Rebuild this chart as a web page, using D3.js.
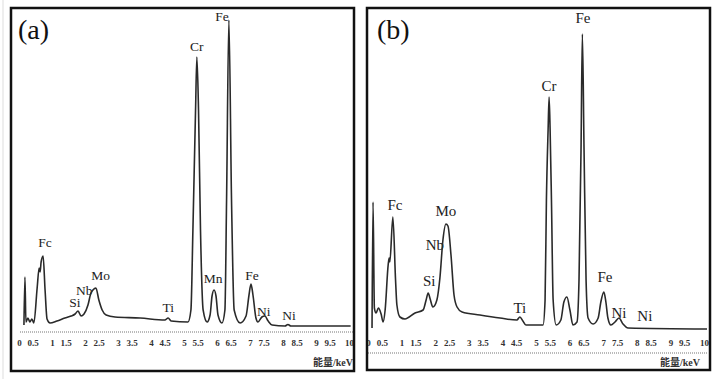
<!DOCTYPE html>
<html>
<head>
<meta charset="utf-8">
<script src="https://cdn.jsdelivr.net/npm/d3@7/dist/d3.min.js"></script>
<style>
  html, body { margin: 0; padding: 0; background: #fff; }
  svg { display: block; }
</style>
</head>
<body>
<svg id="chart" width="724" height="379"></svg>
<script>
// ---------------- DATA ----------------
// Panel (a): EDS spectrum, energy (keV) and intensity (arb. units)
const energyA = [0.15,0.18,0.21,0.27,0.33,0.39,0.45,0.55,0.61,0.64,0.67,0.73,0.79,0.85,0.94,1.15,1.39,1.58,1.70,1.79,1.88,1.97,2.09,2.18,2.24,2.33,2.42,2.52,2.64,2.91,3.67,4.42,4.52,4.61,5.12,5.21,5.27,5.35,5.39,5.44,5.50,5.58,5.70,5.79,5.85,5.91,5.97,6.03,6.15,6.24,6.29,6.36,6.44,6.52,6.70,6.88,6.97,7.03,7.09,7.18,7.24,7.36,7.45,7.55,7.67,8.06,8.15,8.24,10.05];
const countsA = [5,53,8,12,8,11,7,42,62,58,68,74,40,11,7,9,12,14,16,19,14,16,25,37,40,42,30,20,15,13,12,10,12,9,8,20,100,220,273,220,100,20,8,15,34,40,34,15,7,20,130,310,130,20,7,14,35,46,35,12,8,13,14,9,5,4,5.5,4,4];

// Panel (b)
const energyB = [0.12,0.15,0.19,0.24,0.31,0.39,0.45,0.51,0.60,0.63,0.65,0.74,0.82,0.86,0.95,1.10,1.40,1.64,1.73,1.79,1.85,1.93,2.05,2.14,2.23,2.32,2.38,2.47,2.56,2.65,2.80,3.33,3.93,4.43,4.52,4.61,4.70,5.21,5.27,5.31,5.36,5.39,5.42,5.46,5.51,5.60,5.74,5.83,5.92,6.01,6.10,6.22,6.28,6.34,6.38,6.43,6.49,6.55,6.70,6.85,6.93,7.02,7.08,7.14,7.23,7.35,7.47,7.59,7.74,10.09];
const countsB = [3,129,23,18,23,17,9,21,66,73,69,114,51,26,14,12,18,21,31,38,32,24,31,53,91,107,105,76,36,24,19,16,13,11,14,10,6,6,31,131,201,234,201,131,31,6,11,29,34,21,6,9,51,181,297,181,51,13,7,13,29,39,29,13,6,9,13,7,3,2];

// Peak annotations (element names and their anchor in data coordinates)
const peakNamesA  = ["Fc","Si","Nb","Mo","Ti","Cr","Mn","Fe","Fe","Ni","Ni"];
const peakEnergyA = [0.79,1.69,1.98,2.47,4.52,5.39,5.88,6.15,7.06,7.42,8.18];
const peakCountA  = [86,26,38,53,21,282,50,312,53,17,13];

const peakNamesB  = ["Fc","Si","Nb","Mo","Ti","Cr","Fe","Fe","Ni","Ni"];
const peakEnergyB = [0.80,1.82,1.99,2.32,4.52,5.39,6.40,7.05,7.47,8.24];
const peakCountB  = [124,48,84,118,21,243,311,52,16,13];

// Axis ticks
const tickValues = [0,0.5,1,1.5,2,2.5,3,3.5,4,4.5,5,5.5,6,6.5,7,7.5,8,8.5,9,9.5,10];
const tickLabels = ["0","0.5","1","1.5","2","2.5","3","3.5","4","4.5","5","5.5","6","6.5","7","7.5","8","8.5","9","9.5","10"];
const axisTitle = "能量/keV";
const panelTitles = ["(a)","(b)"];

// ---------------- DRAW ----------------
const svg = d3.select("#chart");
svg.append("rect").attr("width",724).attr("height",379).attr("fill","#fff");
svg.append("line").attr("x1",3).attr("x2",3).attr("y1",0).attr("y2",379)
   .attr("stroke","#ddd").attr("stroke-width",1);

const serif = "'Liberation Serif','Times New Roman',serif";

const panels = [
  { frame:{x0:11,x1:354,y0:8,y1:371}, xr:[19,349], yr:[330,20], ymax:310,
    energy:energyA, counts:countsA, names:peakNamesA, pe:peakEnergyA, pc:peakCountA,
    axisY:340, dotY:332, dotX:[20,353], titleX:18, titleY:39, axTitleX:353, labelSize:13.5 },
  { frame:{x0:367,x1:710,y0:8,y1:370}, xr:[368,704], yr:[331,31], ymax:300,
    energy:energyB, counts:countsB, names:peakNamesB, pe:peakEnergyB, pc:peakCountB,
    axisY:340, dotY:353, dotX:[368,708], titleX:377, titleY:39, axTitleX:700, labelSize:15 }
];

panels.forEach((p, i) => {
  const g = svg.append("g");
  const x = d3.scaleLinear().domain([0,10]).range(p.xr);
  const y = d3.scaleLinear().domain([0,p.ymax]).range(p.yr);

  // dotted baseline
  g.append("line")
    .attr("x1",p.dotX[0]).attr("x2",p.dotX[1])
    .attr("y1",p.dotY).attr("y2",p.dotY)
    .attr("stroke","#777").attr("stroke-width",1.2)
    .attr("stroke-dasharray","1,1");

  // peak labels (under the line)
  g.selectAll("text.peak")
    .data(p.names.map((n,k)=>({n, e:p.pe[k], c:p.pc[k]})))
    .join("text")
    .attr("class","peak")
    .attr("x", d => x(d.e))
    .attr("y", d => y(d.c))
    .attr("text-anchor","middle")
    .attr("dominant-baseline","middle")
    .attr("font-family", serif)
    .attr("font-size", p.labelSize)
    .attr("fill","#222")
    .text(d => d.n);

  // spectrum
  const pts = p.energy.map((e,k)=>[e,p.counts[k]]);
  const line = d3.line().x(d=>x(d[0])).y(d=>y(d[1])).curve(d3.curveMonotoneX);
  g.append("path").attr("d", line(pts))
    .attr("fill","none").attr("stroke","#2a2a2a").attr("stroke-width",1.6)
    .attr("stroke-linejoin","round");

  // axis tick labels
  const axis = d3.axisBottom(x).tickValues(tickValues).tickSize(0).tickPadding(0)
    .tickFormat((d,k)=>tickLabels[k]);
  const ag = g.append("g").attr("transform",`translate(0,${p.axisY})`).call(axis);
  ag.select(".domain").remove();
  ag.selectAll("text")
    .attr("font-family", serif).attr("font-size",9).attr("font-weight","bold")
    .attr("fill","#333")
    .attr("dx", d => (d % 1 !== 0 ? -3 : 0));

  // axis title
  g.append("text")
    .attr("x",p.axTitleX).attr("y",366)
    .attr("text-anchor","end")
    .attr("font-family","'Liberation Serif','Noto Sans CJK SC',serif")
    .attr("font-size",10).attr("font-weight","bold").attr("fill","#333")
    .text(axisTitle);

  // panel title
  g.append("text")
    .attr("x",p.titleX).attr("y",p.titleY)
    .attr("font-family",serif).attr("font-size",28).attr("fill","#111")
    .text(panelTitles[i]);

  // frame
  g.append("rect")
    .attr("x",p.frame.x0).attr("y",p.frame.y0)
    .attr("width",p.frame.x1-p.frame.x0).attr("height",p.frame.y1-p.frame.y0)
    .attr("fill","none").attr("stroke","#111").attr("stroke-width",2.5);
});
</script>
</body>
</html>
